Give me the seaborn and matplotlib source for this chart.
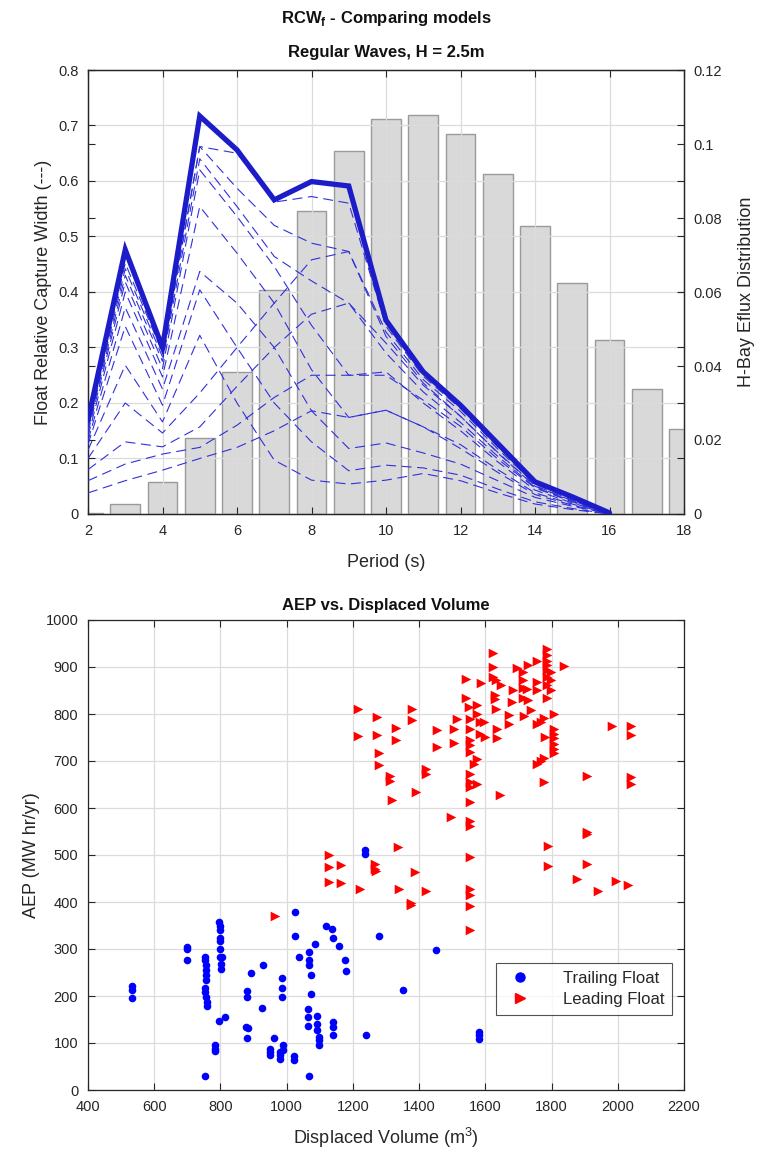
import numpy as np
import pandas as pd
import matplotlib
matplotlib.use("Agg")
import matplotlib.pyplot as plt
from matplotlib.ticker import FuncFormatter, MultipleLocator
from matplotlib.lines import Line2D
import seaborn as sns

# ---------------- data ----------------
periods = [2, 3, 4, 5, 6, 7, 8, 9, 10, 11, 12, 13, 14, 15, 16]
rcw_best = [0.169, 0.476, 0.300, 0.717, 0.656, 0.566, 0.599, 0.591, 0.349, 0.256, 0.196, 0.127, 0.058, 0.031, 0.002]

rcw_models = [
    [0.160, 0.452, 0.290, 0.662, 0.650, 0.562, 0.572, 0.560, 0.338, 0.248, 0.190, 0.121, 0.056, 0.028, 0.0],
    [0.156, 0.442, 0.283, 0.662, 0.587, 0.520, 0.488, 0.473, 0.328, 0.242, 0.185, 0.117, 0.054, 0.027, 0.0],
    [0.152, 0.430, 0.275, 0.640, 0.554, 0.464, 0.420, 0.380, 0.308, 0.232, 0.176, 0.111, 0.051, 0.025, 0.0],
    [0.147, 0.418, 0.262, 0.620, 0.536, 0.446, 0.340, 0.250, 0.250, 0.205, 0.158, 0.099, 0.047, 0.022, 0.0],
    [0.140, 0.400, 0.247, 0.554, 0.470, 0.380, 0.260, 0.174, 0.187, 0.157, 0.125, 0.080, 0.038, 0.018, 0.0],
    [0.132, 0.372, 0.225, 0.437, 0.380, 0.300, 0.186, 0.118, 0.128, 0.110, 0.090, 0.060, 0.030, 0.014, 0.0],
    [0.125, 0.338, 0.196, 0.404, 0.300, 0.200, 0.130, 0.078, 0.088, 0.083, 0.070, 0.045, 0.022, 0.010, 0.0],
    [0.115, 0.268, 0.166, 0.322, 0.200, 0.097, 0.061, 0.054, 0.061, 0.073, 0.060, 0.038, 0.018, 0.008, 0.0],
    [0.100, 0.200, 0.146, 0.218, 0.300, 0.380, 0.458, 0.473, 0.320, 0.236, 0.176, 0.110, 0.050, 0.024, 0.0],
    [0.080, 0.130, 0.121, 0.157, 0.230, 0.300, 0.360, 0.380, 0.290, 0.220, 0.165, 0.104, 0.048, 0.023, 0.0],
    [0.060, 0.090, 0.108, 0.120, 0.160, 0.210, 0.250, 0.250, 0.256, 0.200, 0.150, 0.094, 0.043, 0.020, 0.0],
    [0.038, 0.060, 0.079, 0.100, 0.120, 0.150, 0.186, 0.174, 0.187, 0.157, 0.118, 0.075, 0.035, 0.016, 0.0],
]

bar_periods = [2, 3, 4, 5, 6, 7, 8, 9, 10, 11, 12, 13, 14, 15, 16, 17, 18]
eflux = [0.0004, 0.0027, 0.0087, 0.0205, 0.0384, 0.0606, 0.0819, 0.0980, 0.1067, 0.1079,
         0.1026, 0.0920, 0.0779, 0.0623, 0.0470, 0.0338, 0.0230]

trailing_vol = [532, 532, 532, 698, 698, 698, 752, 754, 755, 755, 755, 755, 752, 752, 755, 758, 758, 752,
                784, 784, 784, 797, 798, 800, 800, 800, 800, 798, 806, 803, 803, 797, 814,
                880, 880, 878, 882, 880, 892, 928, 925, 962, 950, 950, 950, 980, 981, 981,
                987, 987, 987, 990, 990, 1021, 1021, 1026, 1026, 1038,
                1067, 1067, 1067, 1074, 1074, 1063, 1063, 1063, 1066, 1087,
                1091, 1091, 1091, 1099, 1099, 1099, 1120, 1137, 1139, 1139, 1139, 1139,
                1158, 1175, 1179, 1241, 1278, 1236, 1236, 1352, 1452, 1580, 1580, 1580]
trailing_aep = [222, 212, 196, 305, 300, 277, 283, 276, 265, 255, 244, 233, 216, 209, 198, 187, 178, 29,
                95, 88, 82, 357, 350, 341, 324, 318, 301, 283, 283, 269, 258, 146, 155,
                211, 198, 135, 132, 111, 248, 265, 175, 111, 88, 81, 74, 81, 74, 67,
                239, 217, 198, 95, 86, 72, 63, 379, 327, 283,
                294, 276, 265, 244, 204, 173, 155, 136, 29, 311,
                157, 141, 127, 113, 106, 95, 350, 343, 324, 145, 134, 116,
                306, 277, 253, 116, 327, 510, 503, 212, 297, 123, 116, 109]

leading_vol = [965, 1127, 1127, 1165, 1127, 1165, 1220, 1214, 1214, 1273, 1273, 1278, 1278,
               1268, 1268, 1270, 1311, 1311, 1318, 1331, 1331, 1335, 1339,
               1379, 1379, 1374, 1374, 1389, 1392, 1422, 1422, 1422, 1455, 1455, 1495,
               1505, 1505, 1513, 1543, 1543, 1550,
               1555, 1555, 1555, 1555, 1555, 1555, 1555, 1555, 1555, 1555, 1555, 1555, 1555, 1555, 1555, 1555,
               1566, 1576, 1576, 1576, 1576, 1585, 1595, 1585, 1600, 1588,
               1624, 1624, 1624, 1631, 1628, 1628, 1631, 1634, 1634, 1644,
               1648, 1671, 1671, 1682, 1685, 1697, 1715, 1715, 1715, 1715, 1717,
               1727, 1729, 1729, 1737, 1755, 1757, 1757, 1757, 1757,
               1767, 1767, 1777, 1777, 1777, 1780,
               1785, 1785, 1785, 1785, 1785, 1798, 1785, 1798, 1785, 1798, 1785,
               1788, 1788, 1807, 1807, 1807, 1807, 1807, 1807, 1807, 1838,
               1876, 1908, 1908, 1908, 1908, 1941, 1984, 1994, 2030, 2040, 2040, 2040, 2040]
leading_aep = [370, 499, 474, 478, 443, 441, 427, 811, 753, 794, 756, 716, 692,
               480, 470, 465, 668, 657, 618, 770, 744, 517, 428,
               811, 787, 398, 393, 464, 633, 684, 673, 423, 767, 730, 581,
               769, 738, 789, 875, 834, 815,
               790, 769, 744, 733, 719, 673, 655, 645, 613, 572, 561, 496, 428, 414, 391, 340,
               693, 705, 652, 819, 801, 783, 783, 758, 751, 867,
               929, 900, 879, 872, 840, 831, 811, 769, 748, 627,
               861, 797, 778, 826, 851, 897, 889, 872, 856, 833, 795,
               854, 904, 829, 808, 912, 868, 851, 778, 693,
               783, 701, 792, 707, 655, 751,
               939, 925, 913, 904, 894, 890, 879, 872, 861, 851, 835,
               519, 476, 799, 769, 758, 748, 737, 726, 717, 902,
               450, 668, 550, 545, 480, 423, 774, 444, 436, 774, 755, 666, 652]

# ---------------- style ----------------
sns.set_theme(style="ticks")
plt.rcParams["font.family"] = ["Liberation Sans", "DejaVu Sans"]
plt.rcParams["mathtext.fontset"] = "custom"
plt.rcParams["mathtext.rm"] = "Liberation Sans"
plt.rcParams["mathtext.bf"] = "Liberation Sans:bold"
plt.rcParams["axes.edgecolor"] = "#262626"
plt.rcParams["axes.linewidth"] = 0.9

W, H = 763, 1151
fig = plt.figure(figsize=(W / 100, H / 100), dpi=100)

def frac(l, t, r, b):
    return [l / W, 1 - b / H, (r - l) / W, (b - t) / H]

fmt = FuncFormatter(lambda v, p: "%g" % round(v, 4))
grid_kw = dict(color="#dcdcdc", linewidth=0.9)
tick_kw = dict(direction="in", length=5, width=0.8, colors="#262626", labelsize=10.5,
               labelcolor="#262626", pad=7)

# ---------------- top chart ----------------
ax = fig.add_axes(frac(88, 70, 684, 514))
ax2 = ax.twinx()
ax.set_zorder(ax2.get_zorder() + 1)
ax.patch.set_visible(False)

ax2.bar(bar_periods, eflux, width=0.8, color="#d9d9d9", edgecolor="#9a9a9a", linewidth=1.0, zorder=2)
ax2.set_ylim(0, 0.12)
ax2.yaxis.set_major_locator(MultipleLocator(0.02))
ax2.yaxis.set_major_formatter(fmt)
ax2.set_ylabel("H-Bay Eflux Distribution", fontsize=13, color="#262626", labelpad=11)
ax2.tick_params(axis="y", left=True, right=True, **tick_kw)

for vals in rcw_models:
    sns.lineplot(x=periods, y=vals, ax=ax, color="#3030dc", linewidth=0.8,
                 dashes=False, linestyle=(0, (9, 5)), zorder=3)
sns.lineplot(x=periods, y=rcw_best, ax=ax, color="#1c1cc8", linewidth=3.8, zorder=4,
             solid_joinstyle="miter")

ax.set_xlim(2, 18)
ax.set_ylim(0, 0.8)
ax.xaxis.set_major_locator(MultipleLocator(2))
ax.yaxis.set_major_locator(MultipleLocator(0.1))
ax.yaxis.set_major_formatter(fmt)
ax.grid(True, **grid_kw)
ax.set_axisbelow(True)
ax.tick_params(axis="both", top=True, right=True, **tick_kw)
ax.set_xlabel("Period (s)", fontsize=13, color="#262626", labelpad=12)
ax.set_ylabel("Float Relative Capture Width (---)", fontsize=13, color="#262626", labelpad=4)
ax2.grid(False)
for a in (ax, ax2):
    for s in a.spines.values():
        s.set_visible(True)

fig.text(386 / W, 1 - 18 / H, r"RCW$_\mathbf{f}$ - Comparing models", ha="center", va="center",
         fontsize=12, fontweight="bold", color="#111111")
fig.text(386 / W, 1 - 52 / H, "Regular Waves, H = 2.5m", ha="center", va="center",
         fontsize=12, fontweight="bold", color="#111111")

# ---------------- bottom chart ----------------
bx = fig.add_axes(frac(88, 620, 684, 1090))
sns.scatterplot(x=trailing_vol, y=trailing_aep, ax=bx, marker="o", color="#0000ff",
                s=30, linewidth=0, zorder=3)
sns.scatterplot(x=leading_vol, y=leading_aep, ax=bx, marker=">", color="#ff0000",
                s=48, linewidth=0, zorder=3)
bx.set_xlim(400, 2200)
bx.set_ylim(0, 1000)
bx.xaxis.set_major_locator(MultipleLocator(200))
bx.yaxis.set_major_locator(MultipleLocator(100))
bx.grid(True, **grid_kw)
bx.set_axisbelow(True)
bx.tick_params(axis="both", top=True, right=True, **tick_kw)
for s in bx.spines.values():
    s.set_visible(True)
bx.set_xlabel("Displaced Volume (m$^3$)", fontsize=13, color="#262626", labelpad=9)
bx.set_ylabel("AEP (MW hr/yr)", fontsize=13, color="#262626", labelpad=4)
bx.set_title("AEP vs. Displaced Volume", fontsize=12, fontweight="bold", color="#111111", pad=7)

handles = [Line2D([], [], marker="o", color="#0000ff", linestyle="none", markersize=6.5),
           Line2D([], [], marker=">", color="#ff0000", linestyle="none", markersize=7.5)]
leg = bx.legend(handles, ["Trailing Float", "Leading Float"], loc="lower right",
                bbox_to_anchor=(0.98, 0.16), borderaxespad=0, fontsize=12, frameon=True,
                fancybox=False, edgecolor="#262626", handletextpad=1.6, borderpad=0.45,
                labelspacing=0.4, handlelength=2.0)
leg.get_frame().set_linewidth(0.8)

fig.savefig("out.png", dpi=100)
